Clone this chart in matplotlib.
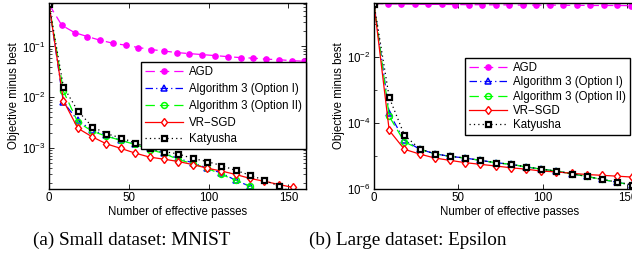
import numpy as np
import matplotlib.pyplot as plt
from matplotlib.ticker import LogLocator, NullFormatter

plt.rcParams['font.family'] = ['Liberation Sans', 'DejaVu Sans']
plt.rcParams['mathtext.fontset'] = 'custom'
plt.rcParams['mathtext.rm'] = 'Liberation Sans'
plt.rcParams['mathtext.it'] = 'Liberation Sans:italic'

# passes at which the curves are marked
agd_passes = [0, 8, 16, 24, 32, 40, 48, 56, 64, 72, 80, 88, 96, 104, 112, 120, 128, 136, 144, 152, 160]
passes = [0, 9, 18, 27, 36, 45, 54, 63, 72, 81, 90, 99, 108, 117, 126, 135, 144, 153]

# (a) MNIST
mnist_agd = [0.68, 0.262, 0.188, 0.157, 0.133, 0.116, 0.106, 0.0955, 0.0871, 0.0813, 0.0759,
             0.0724, 0.0692, 0.0661, 0.0631, 0.0603, 0.0589, 0.0562, 0.0550, 0.0525, 0.0513]
mnist_opt1 = [0.68, 8.0e-3, 3.5e-3, 2.24e-3, 1.78e-3, 1.41e-3, 1.20e-3, 9.8e-4, 7.9e-4, 6.2e-4,
              5.1e-4, 4.0e-4, 3.2e-4, 2.3e-4, 1.74e-4, 1.2e-4]
mnist_opt2 = [0.68, 1.32e-2, 3.24e-3, 2.14e-3, 1.70e-3, 1.41e-3, 1.17e-3, 9.3e-4, 7.8e-4, 5.9e-4,
              4.9e-4, 4.0e-4, 3.0e-4, 2.3e-4, 1.78e-4, 1.2e-4]
mnist_vrsgd = [0.68, 8.6e-3, 2.45e-3, 1.66e-3, 1.20e-3, 9.8e-4, 7.9e-4, 6.6e-4, 6.0e-4, 5.4e-4,
               4.7e-4, 4.0e-4, 3.5e-4, 3.0e-4, 2.5e-4, 2.2e-4, 1.9e-4, 1.66e-4]
mnist_katyusha = [0.68, 1.62e-2, 5.4e-3, 2.63e-3, 1.91e-3, 1.58e-3, 1.26e-3, 9.8e-4, 8.5e-4, 7.6e-4,
                  6.2e-4, 5.4e-4, 4.5e-4, 3.6e-4, 2.9e-4, 2.3e-4, 1.78e-4, 1.3e-4]

# (b) Epsilon
eps_agd = [0.42, 0.415, 0.41, 0.405, 0.40, 0.40, 0.395, 0.39, 0.39, 0.385, 0.385,
           0.38, 0.38, 0.38, 0.375, 0.375, 0.37, 0.37, 0.37, 0.365, 0.365]
eps_opt1 = [0.42, 2.0e-4, 3.0e-5, 1.62e-5, 1.17e-5, 9.8e-6, 8.7e-6, 7.4e-6, 6.3e-6, 5.6e-6,
            4.7e-6, 4.0e-6, 3.5e-6, 2.9e-6, 2.4e-6, 1.95e-6, 1.6e-6, 1.3e-6]
eps_opt2 = [0.42, 1.6e-4, 2.7e-5, 1.6e-5, 1.17e-5, 9.8e-6, 8.7e-6, 7.4e-6, 6.3e-6, 5.6e-6,
            4.7e-6, 4.0e-6, 3.5e-6, 2.9e-6, 2.4e-6, 1.95e-6, 1.6e-6, 1.3e-6]
eps_vrsgd = [0.42, 6.0e-5, 1.6e-5, 1.15e-5, 8.7e-6, 7.4e-6, 6.3e-6, 5.6e-6, 5.0e-6, 4.4e-6,
             4.0e-6, 3.5e-6, 3.3e-6, 3.0e-6, 2.75e-6, 2.6e-6, 2.45e-6, 2.3e-6]
eps_katyusha = [0.42, 6.0e-4, 4.3e-5, 1.66e-5, 1.17e-5, 9.8e-6, 8.7e-6, 7.4e-6, 6.3e-6, 5.6e-6,
                4.7e-6, 4.0e-6, 3.5e-6, 2.9e-6, 2.4e-6, 1.95e-6, 1.62e-6, 1.35e-6]

labels = ['AGD', 'Algorithm 3 (Option I)', 'Algorithm 3 (Option II)', 'VR\u2212SGD', 'Katyusha']
fs = 8.3


def draw(ax, agd, opt1, opt2, vrsgd, katyusha):
    lw = 0.9
    ax.plot(agd_passes[:len(agd)], agd, color='#ff00ff', lw=lw, dashes=(7.5, 4),
            marker='o', ms=3.8, mfc='#ff00ff', mec='#ff00ff', label=labels[0])
    ax.plot(passes[:len(opt1)], opt1, color='#0000ff', lw=lw, dashes=(6, 2.5, 1, 2.5),
            marker='^', ms=4.2, mfc='none', mec='#0000ff', mew=1.1, label=labels[1])
    ax.plot(passes[:len(opt2)], opt2, color='#00ff00', lw=lw, dashes=(7.5, 4),
            marker='o', ms=4.2, mfc='none', mec='#00ff00', mew=1.1, label=labels[2])
    ax.plot(passes[:len(vrsgd)], vrsgd, color='#ff0000', lw=lw, ls='-',
            marker='d', ms=4.5, mfc='white', mec='#ff0000', mew=1.0, label=labels[3])
    ax.plot(passes[:len(katyusha)], katyusha, color='black', lw=lw, dashes=(1, 2.5),
            marker='s', ms=3.6, mfc='white', mec='black', mew=1.6, label=labels[4])
    ax.set_yscale('log')
    ax.set_xlim(0, 161)
    ax.set_xticks([0, 50, 100, 150])
    ax.set_xlabel('Number of effective passes', fontsize=fs, labelpad=1)
    ax.set_ylabel('Objective minus best', fontsize=fs, labelpad=1.5)
    ax.tick_params(which='both', direction='in', top=True, right=True, labelsize=fs)
    ax.tick_params(which='major', length=3.5, width=0.6, pad=2.5)
    ax.tick_params(which='minor', length=2, width=0.5)
    for s in ax.spines.values():
        s.set_linewidth(1.0)


fig = plt.figure(figsize=(6.32, 2.65), dpi=100)
ax1 = fig.add_axes([49 / 632, 1 - 189 / 265, 257 / 632, 186 / 265])
ax2 = fig.add_axes([374 / 632, 1 - 189 / 265, 272 / 632, 186 / 265])

draw(ax1, mnist_agd, mnist_opt1, mnist_opt2, mnist_vrsgd, mnist_katyusha)
ax1.set_ylim(1.55e-4, 0.72)
ax1.set_yticks([1e-3, 1e-2, 1e-1])
ax1.yaxis.set_minor_locator(LogLocator(base=10, subs=np.arange(2, 10), numticks=20))
ax1.yaxis.set_minor_formatter(NullFormatter())

draw(ax2, eps_agd, eps_opt1, eps_opt2, eps_vrsgd, eps_katyusha)
ax2.set_ylim(1e-6, 0.44)
ax2.set_yticks([1e-6, 1e-4, 1e-2])
ax2.yaxis.set_minor_locator(LogLocator(base=10, subs=[1.0], numticks=20))
ax2.yaxis.set_minor_formatter(NullFormatter())

for ax, anchor, spacing in [(ax1, (306 / 632, 1 - 62 / 265), 0.42), (ax2, (630 / 632, 1 - 58 / 265), 0.2)]:
    leg = ax.legend(loc='upper right', bbox_to_anchor=anchor, bbox_transform=fig.transFigure,
                    fontsize=fs, handlelength=3.3, labelspacing=spacing, borderaxespad=0,
                    borderpad=0.35, handletextpad=0.5, fancybox=False, framealpha=1)
    leg.get_frame().set_edgecolor('black')
    leg.get_frame().set_linewidth(1.0)

fig.text(132 / 632, 1 - 240 / 265, '(a) Small dataset: MNIST', ha='center', va='center',
         fontsize=13.8, family='Liberation Serif')
fig.text(408 / 632, 1 - 240 / 265, '(b) Large dataset: Epsilon', ha='center', va='center',
         fontsize=13.8, family='Liberation Serif')

fig.savefig('out.png', dpi=100)
